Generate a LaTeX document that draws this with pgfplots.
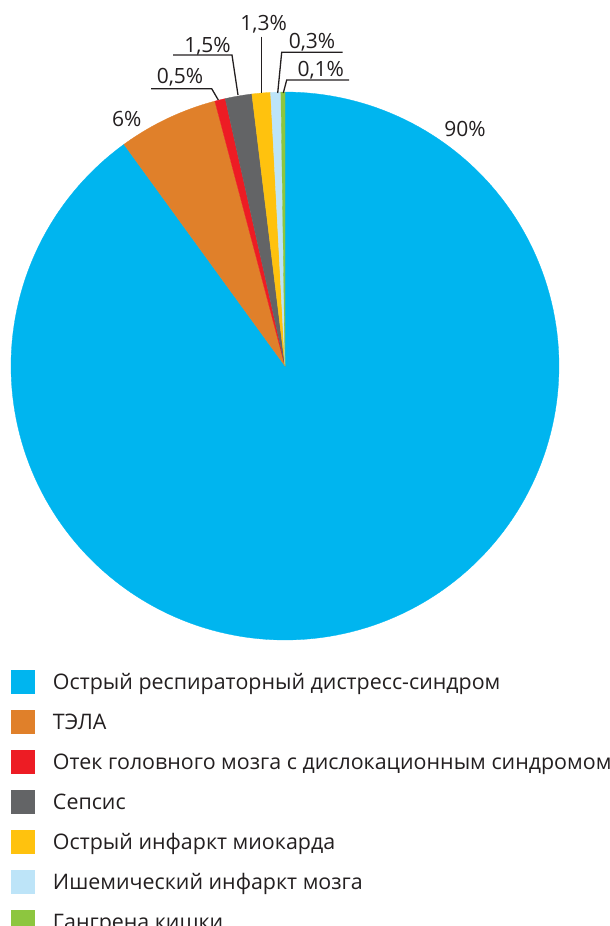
\documentclass[border=0pt]{standalone}
\usepackage{fontspec}
\setmainfont{Open Sans}
\usepackage{pgfplots}
\pgfplotsset{compat=1.18}
\definecolor{cA}{HTML}{00B5EF}
\definecolor{cB}{HTML}{E0802A}
\definecolor{cC}{HTML}{ED1C24}
\definecolor{cD}{HTML}{636466}
\definecolor{cE}{HTML}{FFC20E}
\definecolor{cF}{HTML}{BDE4F8}
\definecolor{cG}{HTML}{8DC63F}
\definecolor{txt}{HTML}{231F20}
% shares (percent) as drawn
\def\pA{90}\def\pB{5.88}\def\pC{0.62}\def\pD{1.57}\def\pE{1.09}\def\pF{0.6}\def\pG{0.24}
\pgfmathsetmacro\aS{90}
\pgfmathsetmacro\aA{\aS-3.6*\pA}
\pgfmathsetmacro\aB{\aA-3.6*\pB}
\pgfmathsetmacro\aC{\aB-3.6*\pC}
\pgfmathsetmacro\aD{\aC-3.6*\pD}
\pgfmathsetmacro\aE{\aD-3.6*\pE}
\pgfmathsetmacro\aF{\aE-3.6*\pF}
\pgfmathsetmacro\aG{\aF-3.6*\pG}
\newcommand\lblfont{\fontsize{21}{25}\selectfont}
\newcommand\legfont{\fontsize{21.4}{25}\selectfont}
\begin{document}
\begin{tikzpicture}
\begin{axis}[name=ax,
  scale only axis, width=610pt, height=926pt,
  xmin=0, xmax=610, ymin=0, ymax=926, y dir=reverse,
  axis lines=none, clip=false,
  legend style={at={(axis cs:11,670)}, anchor=north west, draw=none, fill=none,
    inner sep=0pt, row sep=16.7pt, column sep=18.5pt,
    font=\legfont, text=txt,
    nodes={inner sep=0pt, text height=15pt, text depth=0pt}},
  legend cell align=left,
  legend image code/.code={\fill[#1] (0pt,-11.5pt) rectangle (23pt,11.5pt);},
]
\addplot[fill=cA, draw=cA, line width=0.3pt, domain=\aA:\aS, samples=200, variable=\t]
  ({285+274*cos(\t)},{366-274*sin(\t)}) -- (axis cs:285,366) -- cycle;
\addlegendentry{Острый респираторный дистресс-синдром}
\addplot[fill=cB, draw=cB, line width=0.3pt, domain=\aB:\aA, samples=30, variable=\t]
  ({285+274*cos(\t)},{366-274*sin(\t)}) -- (axis cs:285,366) -- cycle;
\addlegendentry{ТЭЛА}
\addplot[fill=cC, draw=cC, line width=0.3pt, domain=\aC:\aB, samples=5, variable=\t]
  ({285+274*cos(\t)},{366-274*sin(\t)}) -- (axis cs:285,366) -- cycle;
\addlegendentry{Отек головного мозга с дислокационным синдромом}
\addplot[fill=cD, draw=cD, line width=0.3pt, domain=\aD:\aC, samples=8, variable=\t]
  ({285+274*cos(\t)},{366-274*sin(\t)}) -- (axis cs:285,366) -- cycle;
\addlegendentry{Сепсис}
\addplot[fill=cE, draw=cE, line width=0.3pt, domain=\aE:\aD, samples=6, variable=\t]
  ({285+274*cos(\t)},{366-274*sin(\t)}) -- (axis cs:285,366) -- cycle;
\addlegendentry{Острый инфаркт миокарда}
\addplot[fill=cF, draw=cF, line width=0.3pt, domain=\aF:\aE, samples=4, variable=\t]
  ({285+274*cos(\t)},{366-274*sin(\t)}) -- (axis cs:285,366) -- cycle;
\addlegendentry{Ишемический инфаркт мозга}
\addplot[fill=cG, draw=cG, line width=0.3pt, domain=\aG:\aF, samples=3, variable=\t]
  ({285+274*cos(\t)},{366-274*sin(\t)}) -- (axis cs:285,366) -- cycle;
\addlegendentry{Гангрена кишки}
% leader lines
\addplot[forget plot, draw=txt, line width=1.3pt] coordinates {(151,88.7) (211.7,88.7) (218.3,100)};
\addplot[forget plot, draw=txt, line width=1.3pt] coordinates {(173,55) (232,55) (238,95)};
\addplot[forget plot, draw=txt, line width=1.3pt] coordinates {(261.7,36.7) (261.7,93)};
\addplot[forget plot, draw=txt, line width=1.3pt] coordinates {(342.7,52.3) (281.7,52.3) (277.7,93)};
\addplot[forget plot, draw=txt, line width=1.3pt] coordinates {(349,80) (286.7,80) (283.3,93)};
% labels
\node[anchor=base, font=\lblfont, text=txt] at (axis cs:465,136.7) {90\%};
\node[anchor=base, font=\lblfont, text=txt] at (axis cs:126.7,126.7) {6\%};
\node[anchor=base, font=\lblfont, text=txt] at (axis cs:180,83) {0,5\%};
\node[anchor=base, font=\lblfont, text=txt] at (axis cs:207.5,52) {1,5\%};
\node[anchor=base, font=\lblfont, text=txt] at (axis cs:263.7,30) {1,3\%};
\node[anchor=base, font=\lblfont, text=txt] at (axis cs:312,48) {0,3\%};
\node[anchor=base, font=\lblfont, text=txt] at (axis cs:320.8,76) {0,1\%};
\end{axis}
\pgfresetboundingbox
\useasboundingbox (ax.south west) rectangle (ax.north east);
\end{tikzpicture}
\end{document}
